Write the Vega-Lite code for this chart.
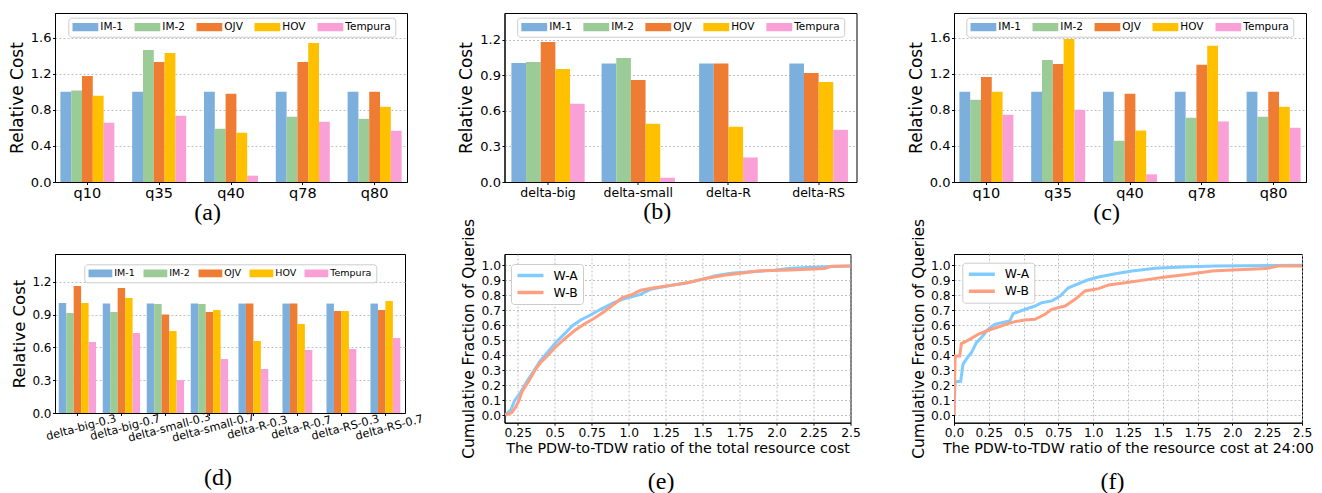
{
  "$schema": "https://vega.github.io/schema/vega-lite/v6.json",
  "autosize": {"type": "pad"},
  "padding": {"left": 7, "top": 12, "right": 0, "bottom": 0},
  "config": {
    "font": "DejaVu Sans",
    "view": {"stroke": "black", "strokeWidth": 1},
    "axis": {"domainColor": "black", "domainWidth": 1, "tickColor": "black", "tickSize": 2.5, "labelPadding": 1.5, "labelColor": "black", "titleColor": "black", "titleFontWeight": "normal", "labelFont": "DejaVu Sans", "titleFont": "DejaVu Sans", "gridColor": "#b0b0b0", "gridDash": [2, 2], "gridWidth": 0.8, "labelOverlap": false, "labelFlush": false, "titlePadding": 4},
    "axisX": {"grid": false},
    "legend": {"orient": "none", "direction": "horizontal", "fillColor": "white", "strokeColor": "#cccccc", "cornerRadius": 3, "padding": 4, "symbolType": "M-1,-0.32H1V0.32H-1Z", "symbolSize": 676, "symbolStrokeWidth": 0, "symbolOpacity": 1, "labelFontSize": 10.5, "labelFont": "DejaVu Sans", "labelColor": "black", "columnPadding": 11, "labelOffset": 2, "clipHeight": 11},
    "title": {"font": "Liberation Serif", "fontSize": 24, "fontWeight": "normal", "color": "black", "orient": "bottom", "frame": "bounds", "anchor": "middle"}
  },
  "datasets": {
    "a": [
      {"g": "q10", "s": "IM-1", "v": 1.0}, {"g": "q10", "s": "IM-2", "v": 1.014}, {"g": "q10", "s": "OJV", "v": 1.176}, {"g": "q10", "s": "HOV", "v": 0.955}, {"g": "q10", "s": "Tempura", "v": 0.656},
      {"g": "q35", "s": "IM-1", "v": 1.0}, {"g": "q35", "s": "IM-2", "v": 1.464}, {"g": "q35", "s": "OJV", "v": 1.331}, {"g": "q35", "s": "HOV", "v": 1.43}, {"g": "q35", "s": "Tempura", "v": 0.734},
      {"g": "q40", "s": "IM-1", "v": 1.0}, {"g": "q40", "s": "IM-2", "v": 0.59}, {"g": "q40", "s": "OJV", "v": 0.977}, {"g": "q40", "s": "HOV", "v": 0.546}, {"g": "q40", "s": "Tempura", "v": 0.07},
      {"g": "q78", "s": "IM-1", "v": 1.0}, {"g": "q78", "s": "IM-2", "v": 0.723}, {"g": "q78", "s": "OJV", "v": 1.331}, {"g": "q78", "s": "HOV", "v": 1.541}, {"g": "q78", "s": "Tempura", "v": 0.667},
      {"g": "q80", "s": "IM-1", "v": 1.0}, {"g": "q80", "s": "IM-2", "v": 0.70}, {"g": "q80", "s": "OJV", "v": 1.0}, {"g": "q80", "s": "HOV", "v": 0.833}, {"g": "q80", "s": "Tempura", "v": 0.568}
    ],
    "b": [
      {"g": "delta-big", "s": "IM-1", "v": 1.004}, {"g": "delta-big", "s": "IM-2", "v": 1.012}, {"g": "delta-big", "s": "OJV", "v": 1.18}, {"g": "delta-big", "s": "HOV", "v": 0.953}, {"g": "delta-big", "s": "Tempura", "v": 0.659},
      {"g": "delta-small", "s": "IM-1", "v": 1.0}, {"g": "delta-small", "s": "IM-2", "v": 1.046}, {"g": "delta-small", "s": "OJV", "v": 0.861}, {"g": "delta-small", "s": "HOV", "v": 0.491}, {"g": "delta-small", "s": "Tempura", "v": 0.036},
      {"g": "delta-R", "s": "IM-1", "v": 1.0}, {"g": "delta-R", "s": "OJV", "v": 1.0}, {"g": "delta-R", "s": "HOV", "v": 0.465}, {"g": "delta-R", "s": "Tempura", "v": 0.207},
      {"g": "delta-RS", "s": "IM-1", "v": 1.0}, {"g": "delta-RS", "s": "OJV", "v": 0.92}, {"g": "delta-RS", "s": "HOV", "v": 0.844}, {"g": "delta-RS", "s": "Tempura", "v": 0.44}
    ],
    "c": [
      {"g": "q10", "s": "IM-1", "v": 1.0}, {"g": "q10", "s": "IM-2", "v": 0.911}, {"g": "q10", "s": "OJV", "v": 1.165}, {"g": "q10", "s": "HOV", "v": 1.0}, {"g": "q10", "s": "Tempura", "v": 0.745},
      {"g": "q35", "s": "IM-1", "v": 1.0}, {"g": "q35", "s": "IM-2", "v": 1.353}, {"g": "q35", "s": "OJV", "v": 1.309}, {"g": "q35", "s": "HOV", "v": 1.585}, {"g": "q35", "s": "Tempura", "v": 0.80},
      {"g": "q40", "s": "IM-1", "v": 1.0}, {"g": "q40", "s": "IM-2", "v": 0.457}, {"g": "q40", "s": "OJV", "v": 0.977}, {"g": "q40", "s": "HOV", "v": 0.571}, {"g": "q40", "s": "Tempura", "v": 0.085},
      {"g": "q78", "s": "IM-1", "v": 1.0}, {"g": "q78", "s": "IM-2", "v": 0.712}, {"g": "q78", "s": "OJV", "v": 1.30}, {"g": "q78", "s": "HOV", "v": 1.511}, {"g": "q78", "s": "Tempura", "v": 0.671},
      {"g": "q80", "s": "IM-1", "v": 1.0}, {"g": "q80", "s": "IM-2", "v": 0.723}, {"g": "q80", "s": "OJV", "v": 1.0}, {"g": "q80", "s": "HOV", "v": 0.833}, {"g": "q80", "s": "Tempura", "v": 0.601}
    ],
    "d": [
      {"g": "delta-big-0.3", "s": "IM-1", "v": 1.005}, {"g": "delta-big-0.3", "s": "IM-2", "v": 0.914}, {"g": "delta-big-0.3", "s": "OJV", "v": 1.16}, {"g": "delta-big-0.3", "s": "HOV", "v": 1.005}, {"g": "delta-big-0.3", "s": "Tempura", "v": 0.649},
      {"g": "delta-big-0.7", "s": "IM-1", "v": 1.0}, {"g": "delta-big-0.7", "s": "IM-2", "v": 0.923}, {"g": "delta-big-0.7", "s": "OJV", "v": 1.142}, {"g": "delta-big-0.7", "s": "HOV", "v": 1.051}, {"g": "delta-big-0.7", "s": "Tempura", "v": 0.731},
      {"g": "delta-small-0.3", "s": "IM-1", "v": 1.0}, {"g": "delta-small-0.3", "s": "IM-2", "v": 0.996}, {"g": "delta-small-0.3", "s": "OJV", "v": 0.899}, {"g": "delta-small-0.3", "s": "HOV", "v": 0.749}, {"g": "delta-small-0.3", "s": "Tempura", "v": 0.30},
      {"g": "delta-small-0.7", "s": "IM-1", "v": 1.0}, {"g": "delta-small-0.7", "s": "IM-2", "v": 0.996}, {"g": "delta-small-0.7", "s": "OJV", "v": 0.923}, {"g": "delta-small-0.7", "s": "HOV", "v": 0.941}, {"g": "delta-small-0.7", "s": "Tempura", "v": 0.493},
      {"g": "delta-R-0.3", "s": "IM-1", "v": 1.0}, {"g": "delta-R-0.3", "s": "OJV", "v": 1.0}, {"g": "delta-R-0.3", "s": "HOV", "v": 0.658}, {"g": "delta-R-0.3", "s": "Tempura", "v": 0.402},
      {"g": "delta-R-0.7", "s": "IM-1", "v": 1.0}, {"g": "delta-R-0.7", "s": "OJV", "v": 1.0}, {"g": "delta-R-0.7", "s": "HOV", "v": 0.813}, {"g": "delta-R-0.7", "s": "Tempura", "v": 0.576},
      {"g": "delta-RS-0.3", "s": "IM-1", "v": 1.0}, {"g": "delta-RS-0.3", "s": "OJV", "v": 0.932}, {"g": "delta-RS-0.3", "s": "HOV", "v": 0.932}, {"g": "delta-RS-0.3", "s": "Tempura", "v": 0.585},
      {"g": "delta-RS-0.7", "s": "IM-1", "v": 1.0}, {"g": "delta-RS-0.7", "s": "OJV", "v": 0.941}, {"g": "delta-RS-0.7", "s": "HOV", "v": 1.023}, {"g": "delta-RS-0.7", "s": "Tempura", "v": 0.685}
    ],
    "e": [
      {"s": "W-A", "x": 0.166, "y": 0.0}, {"s": "W-A", "x": 0.205, "y": 0.038}, {"s": "W-A", "x": 0.227, "y": 0.094}, {"s": "W-A", "x": 0.268, "y": 0.15}, {"s": "W-A", "x": 0.313, "y": 0.227}, {"s": "W-A", "x": 0.358, "y": 0.294}, {"s": "W-A", "x": 0.40, "y": 0.36}, {"s": "W-A", "x": 0.449, "y": 0.416}, {"s": "W-A", "x": 0.505, "y": 0.483}, {"s": "W-A", "x": 0.562, "y": 0.539}, {"s": "W-A", "x": 0.618, "y": 0.595}, {"s": "W-A", "x": 0.675, "y": 0.635}, {"s": "W-A", "x": 0.742, "y": 0.668}, {"s": "W-A", "x": 0.81, "y": 0.706}, {"s": "W-A", "x": 0.90, "y": 0.75}, {"s": "W-A", "x": 0.957, "y": 0.773}, {"s": "W-A", "x": 1.013, "y": 0.788}, {"s": "W-A", "x": 1.081, "y": 0.806}, {"s": "W-A", "x": 1.149, "y": 0.84}, {"s": "W-A", "x": 1.262, "y": 0.862}, {"s": "W-A", "x": 1.397, "y": 0.884}, {"s": "W-A", "x": 1.5, "y": 0.906}, {"s": "W-A", "x": 1.578, "y": 0.929}, {"s": "W-A", "x": 1.691, "y": 0.947}, {"s": "W-A", "x": 1.849, "y": 0.958}, {"s": "W-A", "x": 1.985, "y": 0.967}, {"s": "W-A", "x": 2.098, "y": 0.98}, {"s": "W-A", "x": 2.324, "y": 0.991}, {"s": "W-A", "x": 2.5, "y": 0.996},
      {"s": "W-B", "x": 0.166, "y": 0.0}, {"s": "W-B", "x": 0.21, "y": 0.016}, {"s": "W-B", "x": 0.234, "y": 0.05}, {"s": "W-B", "x": 0.257, "y": 0.094}, {"s": "W-B", "x": 0.28, "y": 0.16}, {"s": "W-B", "x": 0.325, "y": 0.227}, {"s": "W-B", "x": 0.37, "y": 0.305}, {"s": "W-B", "x": 0.404, "y": 0.35}, {"s": "W-B", "x": 0.449, "y": 0.394}, {"s": "W-B", "x": 0.505, "y": 0.454}, {"s": "W-B", "x": 0.562, "y": 0.505}, {"s": "W-B", "x": 0.63, "y": 0.561}, {"s": "W-B", "x": 0.697, "y": 0.606}, {"s": "W-B", "x": 0.765, "y": 0.644}, {"s": "W-B", "x": 0.833, "y": 0.69}, {"s": "W-B", "x": 0.90, "y": 0.74}, {"s": "W-B", "x": 0.957, "y": 0.784}, {"s": "W-B", "x": 1.025, "y": 0.806}, {"s": "W-B", "x": 1.081, "y": 0.833}, {"s": "W-B", "x": 1.172, "y": 0.85}, {"s": "W-B", "x": 1.285, "y": 0.866}, {"s": "W-B", "x": 1.397, "y": 0.884}, {"s": "W-B", "x": 1.51, "y": 0.91}, {"s": "W-B", "x": 1.646, "y": 0.933}, {"s": "W-B", "x": 1.759, "y": 0.947}, {"s": "W-B", "x": 1.872, "y": 0.962}, {"s": "W-B", "x": 2.098, "y": 0.969}, {"s": "W-B", "x": 2.324, "y": 0.978}, {"s": "W-B", "x": 2.37, "y": 0.993}, {"s": "W-B", "x": 2.5, "y": 0.996}
    ],
    "f": [
      {"s": "W-A", "x": 0.0, "y": 0.0}, {"s": "W-A", "x": 0.008, "y": 0.222}, {"s": "W-A", "x": 0.048, "y": 0.225}, {"s": "W-A", "x": 0.065, "y": 0.34}, {"s": "W-A", "x": 0.096, "y": 0.383}, {"s": "W-A", "x": 0.125, "y": 0.416}, {"s": "W-A", "x": 0.161, "y": 0.483}, {"s": "W-A", "x": 0.197, "y": 0.517}, {"s": "W-A", "x": 0.245, "y": 0.572}, {"s": "W-A", "x": 0.293, "y": 0.606}, {"s": "W-A", "x": 0.341, "y": 0.617}, {"s": "W-A", "x": 0.401, "y": 0.628}, {"s": "W-A", "x": 0.425, "y": 0.677}, {"s": "W-A", "x": 0.51, "y": 0.706}, {"s": "W-A", "x": 0.582, "y": 0.728}, {"s": "W-A", "x": 0.63, "y": 0.75}, {"s": "W-A", "x": 0.702, "y": 0.762}, {"s": "W-A", "x": 0.762, "y": 0.795}, {"s": "W-A", "x": 0.822, "y": 0.85}, {"s": "W-A", "x": 0.882, "y": 0.873}, {"s": "W-A", "x": 0.954, "y": 0.9}, {"s": "W-A", "x": 1.038, "y": 0.922}, {"s": "W-A", "x": 1.159, "y": 0.944}, {"s": "W-A", "x": 1.279, "y": 0.962}, {"s": "W-A", "x": 1.447, "y": 0.98}, {"s": "W-A", "x": 1.639, "y": 0.989}, {"s": "W-A", "x": 1.88, "y": 0.996}, {"s": "W-A", "x": 2.5, "y": 1.0},
      {"s": "W-B", "x": 0.0, "y": 0.0}, {"s": "W-B", "x": 0.008, "y": 0.394}, {"s": "W-B", "x": 0.041, "y": 0.394}, {"s": "W-B", "x": 0.053, "y": 0.477}, {"s": "W-B", "x": 0.089, "y": 0.494}, {"s": "W-B", "x": 0.125, "y": 0.512}, {"s": "W-B", "x": 0.173, "y": 0.539}, {"s": "W-B", "x": 0.245, "y": 0.566}, {"s": "W-B", "x": 0.317, "y": 0.588}, {"s": "W-B", "x": 0.389, "y": 0.61}, {"s": "W-B", "x": 0.437, "y": 0.624}, {"s": "W-B", "x": 0.51, "y": 0.635}, {"s": "W-B", "x": 0.582, "y": 0.639}, {"s": "W-B", "x": 0.654, "y": 0.673}, {"s": "W-B", "x": 0.702, "y": 0.706}, {"s": "W-B", "x": 0.798, "y": 0.728}, {"s": "W-B", "x": 0.87, "y": 0.773}, {"s": "W-B", "x": 0.942, "y": 0.829}, {"s": "W-B", "x": 1.038, "y": 0.844}, {"s": "W-B", "x": 1.111, "y": 0.869}, {"s": "W-B", "x": 1.231, "y": 0.884}, {"s": "W-B", "x": 1.399, "y": 0.906}, {"s": "W-B", "x": 1.519, "y": 0.922}, {"s": "W-B", "x": 1.687, "y": 0.94}, {"s": "W-B", "x": 1.856, "y": 0.962}, {"s": "W-B", "x": 2.0, "y": 0.969}, {"s": "W-B", "x": 2.24, "y": 0.978}, {"s": "W-B", "x": 2.337, "y": 0.996}, {"s": "W-B", "x": 2.5, "y": 0.996}
    ]
  },
  "concat": [
    {
      "width": 352, "height": 169,
      "data": {"name": "a"},
      "mark": {"type": "bar"},
      "encoding": {
        "x": {"field": "g", "type": "nominal", "sort": null, "scale": {"paddingInner": 0.248, "paddingOuter": 0.075}, "axis": {"title": null, "labelAngle": 0, "labelFontSize": 14.5}},
        "xOffset": {"field": "s", "type": "nominal", "sort": null, "scale": {"domain": ["IM-1", "IM-2", "OJV", "HOV", "Tempura"], "paddingInner": 0, "paddingOuter": 0}},
        "y": {"field": "v", "type": "quantitative", "scale": {"domain": [0, 1.873], "nice": false, "zero": false}, "axis": {"title": "Relative Cost", "titleFontSize": 17, "labelFontSize": 13, "values": [0, 0.4, 0.8, 1.2, 1.6], "format": ".1f", "grid": true}},
        "color": {"field": "s", "type": "nominal", "scale": {"domain": ["IM-1", "IM-2", "OJV", "HOV", "Tempura"], "range": ["#7DAFDD", "#9BCC97", "#EE7D33", "#FFC000", "#F9A0D6"]}, "legend": {"title": null, "legendX": 13.3, "legendY": 4.7}}
      },
      "title": {"text": "(a)", "offset": 1}
    },
    {
      "width": 352, "height": 169,
      "data": {"name": "b"},
      "encoding": {
        "x": {"field": "g", "type": "nominal", "scale": {"domain": ["delta-big", "delta-small", "delta-R", "delta-RS"], "paddingInner": 0.1874, "paddingOuter": 0.045, "align": 0.85}, "axis": {"title": null, "labelAngle": 0, "labelFontSize": 12.5}},
        "y": {"field": "v", "type": "quantitative", "scale": {"domain": [0, 1.425], "nice": false, "zero": false}, "axis": {"title": "Relative Cost", "titleFontSize": 17, "labelFontSize": 13, "values": [0, 0.3, 0.6, 0.9, 1.2], "format": ".1f", "grid": true}},
        "color": {"field": "s", "type": "nominal", "scale": {"domain": ["IM-1", "IM-2", "OJV", "HOV", "Tempura"], "range": ["#7DAFDD", "#9BCC97", "#EE7D33", "#FFC000", "#F9A0D6"]}, "legend": {"title": null, "legendX": 12.7, "legendY": 4.7}}
      },
      "layer": [
        {
          "transform": [{"filter": "datum.g == 'delta-big' || datum.g == 'delta-small'"}],
          "mark": {"type": "bar"},
          "encoding": {"xOffset": {"field": "s", "type": "nominal", "scale": {"domain": ["IM-1", "IM-2", "OJV", "HOV", "Tempura"], "paddingInner": 0, "paddingOuter": 0}}}
        },
        {
          "transform": [{"filter": "datum.g == 'delta-R' || datum.g == 'delta-RS'"}],
          "mark": {"type": "bar"},
          "encoding": {"xOffset": {"field": "s", "type": "nominal", "scale": {"domain": ["IM-1", "OJV", "HOV", "Tempura"], "paddingInner": 0, "paddingOuter": 0.5}}}
        }
      ],
      "resolve": {"scale": {"xOffset": "independent"}},
      "title": {"text": "(b)", "offset": 1}
    },
    {
      "width": 352, "height": 169,
      "data": {"name": "c"},
      "mark": {"type": "bar"},
      "encoding": {
        "x": {"field": "g", "type": "nominal", "sort": null, "scale": {"paddingInner": 0.248, "paddingOuter": 0.075}, "axis": {"title": null, "labelAngle": 0, "labelFontSize": 14.5}},
        "xOffset": {"field": "s", "type": "nominal", "sort": null, "scale": {"domain": ["IM-1", "IM-2", "OJV", "HOV", "Tempura"], "paddingInner": 0, "paddingOuter": 0}},
        "y": {"field": "v", "type": "quantitative", "scale": {"domain": [0, 1.873], "nice": false, "zero": false}, "axis": {"title": "Relative Cost", "titleFontSize": 17, "labelFontSize": 13, "values": [0, 0.4, 0.8, 1.2, 1.6], "format": ".1f", "grid": true}},
        "color": {"field": "s", "type": "nominal", "scale": {"domain": ["IM-1", "IM-2", "OJV", "HOV", "Tempura"], "range": ["#7DAFDD", "#9BCC97", "#EE7D33", "#FFC000", "#F9A0D6"]}, "legend": {"title": null, "legendX": 12.3, "legendY": 4.7}}
      },
      "title": {"text": "(c)", "offset": 1}
    },
    {
      "width": 350, "height": 159,
      "data": {"name": "d"},
      "encoding": {
        "x": {"field": "g", "type": "nominal", "scale": {"domain": ["delta-big-0.3", "delta-big-0.7", "delta-small-0.3", "delta-small-0.7", "delta-R-0.3", "delta-R-0.7", "delta-RS-0.3", "delta-RS-0.7"], "paddingInner": 0.152, "paddingOuter": 0.053, "align": 0.8}, "axis": {"title": null, "labelAngle": -15, "labelAlign": "center", "labelBaseline": "middle", "labelPadding": 12, "labelOffset": 4, "labelFontSize": 11.3}},
        "y": {"field": "v", "type": "quantitative", "scale": {"domain": [0, 1.453], "nice": false, "zero": false}, "axis": {"title": "Relative Cost", "titleFontSize": 16.5, "labelFontSize": 12, "values": [0, 0.3, 0.6, 0.9, 1.2], "format": ".1f", "grid": true}},
        "color": {"field": "s", "type": "nominal", "scale": {"domain": ["IM-1", "IM-2", "OJV", "HOV", "Tempura"], "range": ["#7DAFDD", "#9BCC97", "#EE7D33", "#FFC000", "#F9A0D6"]}, "legend": {"title": null, "legendX": 29.3, "legendY": 10.3, "labelFontSize": 9.5, "symbolSize": 576, "columnPadding": 8, "clipHeight": 9.5}}
      },
      "layer": [
        {
          "transform": [{"filter": "indexof(['delta-big-0.3','delta-big-0.7','delta-small-0.3','delta-small-0.7'], datum.g) >= 0"}],
          "mark": {"type": "bar"},
          "encoding": {"xOffset": {"field": "s", "type": "nominal", "scale": {"domain": ["IM-1", "IM-2", "OJV", "HOV", "Tempura"], "paddingInner": 0, "paddingOuter": 0}}}
        },
        {
          "transform": [{"filter": "indexof(['delta-big-0.3','delta-big-0.7','delta-small-0.3','delta-small-0.7'], datum.g) < 0"}],
          "mark": {"type": "bar"},
          "encoding": {"xOffset": {"field": "s", "type": "nominal", "scale": {"domain": ["IM-1", "OJV", "HOV", "Tempura"], "paddingInner": 0, "paddingOuter": 0.5}}}
        }
      ],
      "resolve": {"scale": {"xOffset": "independent"}},
      "title": {"text": "(d)", "offset": 22}
    },
    {
      "width": 346, "height": 168.7,
      "data": {"name": "e"},
      "mark": {"type": "line", "strokeWidth": 3, "clip": true},
      "encoding": {
        "x": {"field": "x", "type": "quantitative", "scale": {"domain": [0.16, 2.5], "nice": false, "zero": false}, "axis": {"title": "The PDW-to-TDW ratio of the total resource cost", "titleFontSize": 14.3, "titlePadding": 2, "labelFontSize": 12.3, "grid": true, "values": [0.25, 0.5, 0.75, 1.0, 1.25, 1.5, 1.75, 2.0, 2.25, 2.5], "labelExpr": "round(datum.value*100) % 50 == 0 ? format(datum.value, '.1f') : format(datum.value, '.2f')"}},
        "y": {"field": "y", "type": "quantitative", "scale": {"domain": [-0.0514, 1.0755], "nice": false, "zero": false}, "axis": {"title": "Cumulative Fraction of Queries", "titleFontSize": 15.5, "labelFontSize": 12.3, "grid": true, "values": [0, 0.1, 0.2, 0.3, 0.4, 0.5, 0.6, 0.7, 0.8, 0.9, 1.0], "format": ".1f"}},
        "color": {"field": "s", "type": "nominal", "scale": {"domain": ["W-A", "W-B"], "range": ["#80CBFF", "#FF9F80"]}, "legend": {"title": null, "direction": "vertical", "symbolType": "stroke", "symbolSize": 676, "symbolStrokeWidth": 3.5, "legendX": 6.5, "legendY": 10, "labelFontSize": 12.3, "clipHeight": 14, "rowPadding": 3, "labelOffset": 8, "padding": 4.5}}
      },
      "title": {"text": "(e)", "offset": 12}
    },
    {
      "width": 348, "height": 168.7,
      "data": {"name": "f"},
      "mark": {"type": "line", "strokeWidth": 3, "clip": true},
      "encoding": {
        "x": {"field": "x", "type": "quantitative", "scale": {"domain": [0, 2.5], "nice": false, "zero": false}, "axis": {"title": "The PDW-to-TDW ratio of the resource cost at 24:00", "titleFontSize": 14.3, "titlePadding": 2, "labelFontSize": 12.3, "grid": true, "values": [0, 0.25, 0.5, 0.75, 1.0, 1.25, 1.5, 1.75, 2.0, 2.25, 2.5], "labelExpr": "round(datum.value*100) % 50 == 0 ? format(datum.value, '.1f') : format(datum.value, '.2f')"}},
        "y": {"field": "y", "type": "quantitative", "scale": {"domain": [-0.0514, 1.0755], "nice": false, "zero": false}, "axis": {"title": "Cumulative Fraction of Queries", "titleFontSize": 15.5, "labelFontSize": 12.3, "grid": true, "values": [0, 0.1, 0.2, 0.3, 0.4, 0.5, 0.6, 0.7, 0.8, 0.9, 1.0], "format": ".1f"}},
        "color": {"field": "s", "type": "nominal", "scale": {"domain": ["W-A", "W-B"], "range": ["#80CBFF", "#FF9F80"]}, "legend": {"title": null, "direction": "vertical", "symbolType": "stroke", "symbolSize": 676, "symbolStrokeWidth": 3.5, "legendX": 8.3, "legendY": 8.7, "labelFontSize": 12.3, "clipHeight": 14, "rowPadding": 3, "labelOffset": 8, "padding": 4.5}}
      },
      "title": {"text": "(f)", "offset": 12}
    }
  ],
  "columns": 3,
  "spacing": {"row": 72, "column": 97.5},
  "bounds": "flush",
  "align": "each",
  "resolve": {"scale": {"color": "independent", "x": "independent", "y": "independent"}, "legend": {"color": "independent"}}
}
